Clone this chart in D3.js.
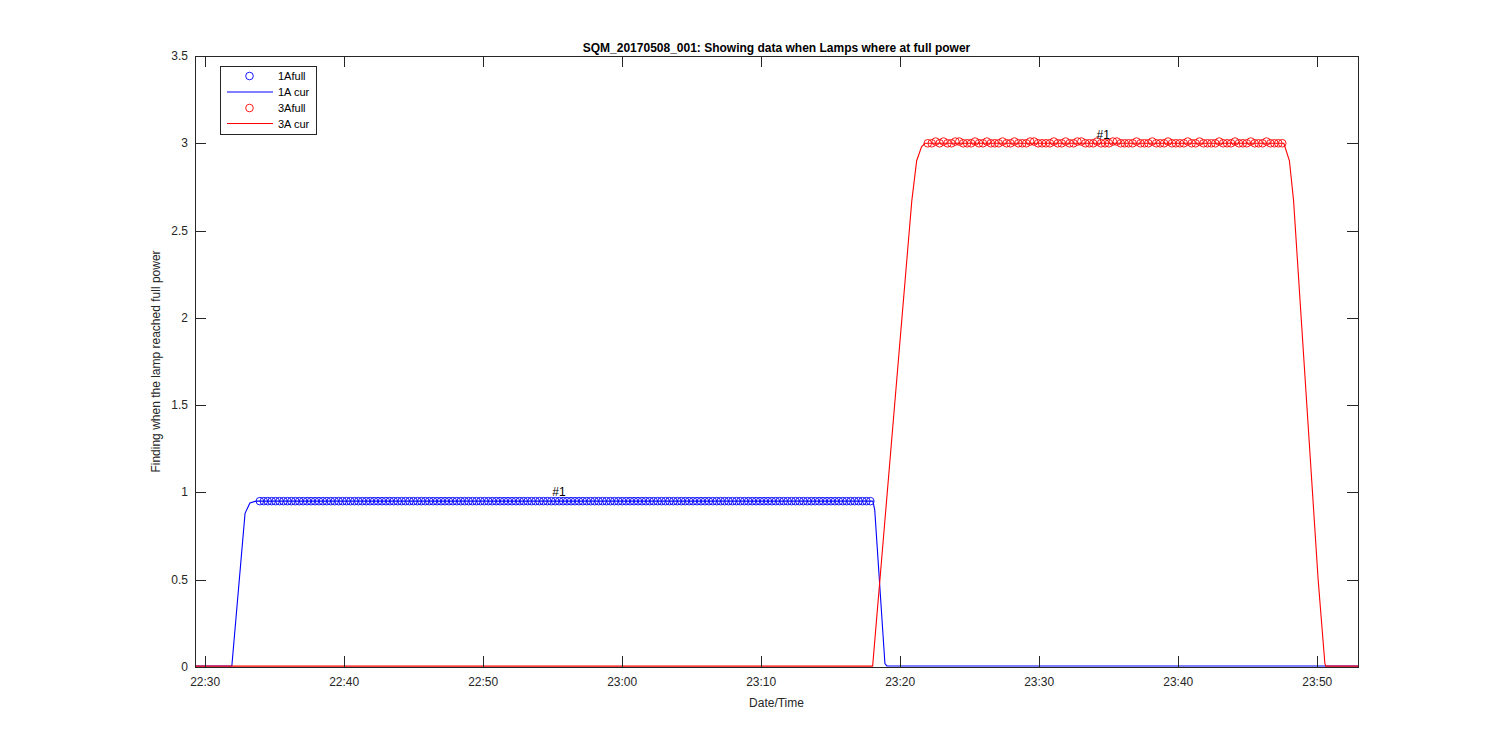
<!DOCTYPE html>
<html>
<head>
<meta charset="utf-8">
<script src="https://cdn.jsdelivr.net/npm/d3@7"></script>
<style>
  html, body { margin: 0; padding: 0; background: #fff; }
  svg { display: block; font-family: "Liberation Sans", Arial, Helvetica, sans-serif; }
</style>
</head>
<body>
<svg id="chart" width="1500" height="750"></svg>
<script>
// ---------------- DATA ----------------
const titleText = "SQM_20170508_001: Showing data when Lamps where at full power";
const xLabel = "Date/Time";
const yLabel = "Finding when the lamp reached full power";
const xDomain = ["22:29:16", "23:52:56"];
const yDomain = [0, 3.5];
const yTicks = [0, 0.5, 1, 1.5, 2, 2.5, 3, 3.5];
const xTicks = ["22:30", "22:40", "22:50", "23:00", "23:10", "23:20", "23:30", "23:40", "23:50"];

// full-power samples (one every 17 s from start time)
const sampleStepSec = 17;
const full1AStart = "22:33:56";
const full1AValues = [
  0.95,0.95,0.95,0.95,0.95,0.95,0.95,0.95,0.95,0.95,0.95,0.95,0.95,0.95,0.95,0.95,0.95,0.95,0.95,0.95,
  0.95,0.95,0.95,0.95,0.95,0.95,0.95,0.95,0.95,0.95,0.95,0.95,0.95,0.95,0.95,0.95,0.95,0.95,0.95,0.95,
  0.95,0.95,0.95,0.95,0.95,0.95,0.95,0.95,0.95,0.95,0.95,0.95,0.95,0.95,0.95,0.95,0.95,0.95,0.95,0.95,
  0.95,0.95,0.95,0.95,0.95,0.95,0.95,0.95,0.95,0.95,0.95,0.95,0.95,0.95,0.95,0.95,0.95,0.95,0.95,0.95,
  0.95,0.95,0.95,0.95,0.95,0.95,0.95,0.95,0.95,0.95,0.95,0.95,0.95,0.95,0.95,0.95,0.95,0.95,0.95,0.95,
  0.95,0.95,0.95,0.95,0.95,0.95,0.95,0.95,0.95,0.95,0.95,0.95,0.95,0.95,0.95,0.95,0.95,0.95,0.95,0.95,
  0.95,0.95,0.95,0.95,0.95,0.95,0.95,0.95,0.95,0.95,0.95,0.95,0.95,0.95,0.95,0.95,0.95,0.95,0.95,0.95,
  0.95,0.95,0.95,0.95,0.95,0.95,0.95,0.95,0.95,0.95,0.95,0.95,0.95,0.95,0.95,0.95
];
const full3AStart = "23:21:59";
const full3AValues = [
  3.00,3.00,3.01,3.00,3.01,3.00,3.00,3.01,3.01,3.00,3.00,3.00,3.01,3.00,3.00,3.01,3.00,3.00,3.00,3.01,
  3.00,3.00,3.01,3.00,3.00,3.00,3.01,3.01,3.00,3.00,3.00,3.00,3.01,3.00,3.00,3.01,3.00,3.00,3.01,3.01,
  3.00,3.00,3.00,3.01,3.00,3.00,3.00,3.01,3.01,3.00,3.00,3.00,3.00,3.01,3.00,3.00,3.00,3.01,3.00,3.00,
  3.00,3.01,3.00,3.00,3.00,3.00,3.01,3.00,3.00,3.01,3.00,3.00,3.00,3.00,3.01,3.00,3.00,3.00,3.01,3.00,
  3.00,3.00,3.01,3.00,3.00,3.00,3.01,3.00,3.00,3.00,3.00
];

// current traces (key points)
const cur1ATimes = ["22:29:16","22:31:55","22:32:52","22:33:13","22:33:39","23:18:02","23:18:10","23:18:54","23:19:02","23:52:56"];
const cur1AValues = [0.006, 0.006, 0.88, 0.94, 0.95, 0.95, 0.90, 0.02, 0.006, 0.006];
const cur3ATimes = ["22:29:16","23:18:01","23:20:50","23:21:11","23:21:32","23:21:47","23:47:36","23:48:00","23:48:18","23:50:04","23:50:33","23:50:37","23:52:56"];
const cur3AValues = [0.005, 0.005, 2.67, 2.90, 2.98, 3.00, 3.00, 2.90, 2.67, 0.50, 0.02, 0.005, 0.005];

// annotations
const annotTimes = ["22:55:27", "23:34:36"];
const annotValues = [1.0, 3.05];
const annotTexts = ["#1", "#1"];

const legendLabels = ["1Afull", "1A cur", "3Afull", "3A cur"];
const legendKinds = ["marker", "line", "marker", "line"];
const legendColors = ["#0000ff", "#0000ff", "#ff0000", "#ff0000"];

// ---------------- DRAW ----------------
const parse = d3.timeParse("%Y-%m-%d %H:%M:%S");
const t = s => parse("2017-05-08 " + (s.length === 5 ? s + ":00" : s));

const L = 195, R = 1358, T = 56, B = 667;
const x = d3.scaleTime().domain(xDomain.map(t)).range([L, R]);
const y = d3.scaleLinear().domain(yDomain).range([B, T]);

const svg = d3.select("#chart");
svg.append("rect").attr("width", 1500).attr("height", 750).attr("fill", "#fff");

const axisColor = "#262626";
const tickLen = 11;

// plot area background
svg.append("rect").attr("x", L).attr("y", T).attr("width", R - L).attr("height", B - T).attr("fill", "#fff");

const clip = svg.append("defs").append("clipPath").attr("id", "clip")
  .append("rect").attr("x", L).attr("y", T - 5).attr("width", R - L).attr("height", B - T + 10);

const g = svg.append("g").attr("clip-path", "url(#clip)");

function samples(start, values) {
  const s0 = t(start);
  return values.map((v, i) => ({ time: new Date(s0.getTime() + i * sampleStepSec * 1000), value: v }));
}
const full1A = samples(full1AStart, full1AValues);
const full3A = samples(full3AStart, full3AValues);
const cur1A = cur1ATimes.map((s, i) => ({ time: t(s), value: cur1AValues[i] }));
const cur3A = cur3ATimes.map((s, i) => ({ time: t(s), value: cur3AValues[i] }));

const line = d3.line().x(d => x(d.time)).y(d => y(d.value));

function drawMarkers(data, color) {
  g.append("g").selectAll("circle").data(data).join("circle")
    .attr("cx", d => x(d.time)).attr("cy", d => y(d.value)).attr("r", 3.8)
    .attr("fill", "none").attr("stroke", color).attr("stroke-width", 0.9);
}
function drawLine(data, color) {
  g.append("path").datum(data).attr("d", line)
    .attr("fill", "none").attr("stroke", color).attr("stroke-width", 1.1);
}
drawMarkers(full1A, "#0000ff");
drawLine(cur1A, "#0000ff");
drawMarkers(full3A, "#ff0000");
drawLine(cur3A, "#ff0000");

// annotations
annotTexts.forEach((txt, i) => {
  svg.append("text").attr("x", x(t(annotTimes[i]))).attr("y", y(annotValues[i]))
    .attr("text-anchor", "middle").attr("dominant-baseline", "central")
    .attr("font-size", 12).attr("fill", "#000").text(txt);
});

// axes box
const axes = svg.append("g");
axes.append("rect").attr("x", L + 0.5).attr("y", T + 0.5).attr("width", R - L).attr("height", B - T)
  .attr("fill", "none").attr("stroke", axisColor).attr("stroke-width", 1);

// x ticks
const xt = xTicks.map(t);
xt.forEach(d => {
  const px = Math.round(x(d)) + 0.5;
  axes.append("line").attr("x1", px).attr("x2", px).attr("y1", B).attr("y2", B - tickLen).attr("stroke", axisColor);
  axes.append("line").attr("x1", px).attr("x2", px).attr("y1", T).attr("y2", T + tickLen).attr("stroke", axisColor);
  axes.append("text").attr("x", x(d)).attr("y", B + 19).attr("text-anchor", "middle")
    .attr("font-size", 12).attr("fill", axisColor).text(d3.timeFormat("%H:%M")(d));
});
// y ticks
yTicks.forEach(v => {
  const py = Math.round(y(v)) + 0.5;
  axes.append("line").attr("x1", L).attr("x2", L + tickLen).attr("y1", py).attr("y2", py).attr("stroke", axisColor);
  axes.append("line").attr("x1", R).attr("x2", R - tickLen).attr("y1", py).attr("y2", py).attr("stroke", axisColor);
  axes.append("text").attr("x", L - 7).attr("y", y(v)).attr("text-anchor", "end").attr("dominant-baseline", "central")
    .attr("font-size", 12).attr("fill", axisColor).text(d3.format("~g")(v));
});

// labels
svg.append("text").attr("x", (L + R) / 2).attr("y", 52).attr("text-anchor", "middle")
  .attr("font-size", 12).attr("font-weight", "bold").attr("fill", "#000").text(titleText);
svg.append("text").attr("x", (L + R) / 2).attr("y", 707).attr("text-anchor", "middle")
  .attr("font-size", 12).attr("fill", axisColor).text(xLabel);
svg.append("text").attr("transform", `translate(160,${(T + B) / 2}) rotate(-90)`).attr("text-anchor", "middle")
  .attr("font-size", 12).attr("fill", axisColor).text(yLabel);

// legend
const lg = svg.append("g");
lg.append("rect").attr("x", 220.5).attr("y", 66.5).attr("width", 96).attr("height", 68)
  .attr("fill", "#fff").attr("stroke", axisColor).attr("stroke-width", 1);
const rowY = [76, 92, 108, 123.5];
legendLabels.forEach((lab, i) => {
  if (legendKinds[i] === "marker") {
    lg.append("circle").attr("cx", 249.5).attr("cy", rowY[i]).attr("r", 3.8)
      .attr("fill", "none").attr("stroke", legendColors[i]).attr("stroke-width", 0.9);
  } else {
    lg.append("line").attr("x1", 227).attr("x2", 273).attr("y1", rowY[i]).attr("y2", rowY[i])
      .attr("stroke", legendColors[i]).attr("stroke-width", 1.1);
  }
  lg.append("text").attr("x", 278).attr("y", rowY[i]).attr("dominant-baseline", "central")
    .attr("font-size", 11).attr("fill", "#000").text(lab);
});
</script>
</body>
</html>
